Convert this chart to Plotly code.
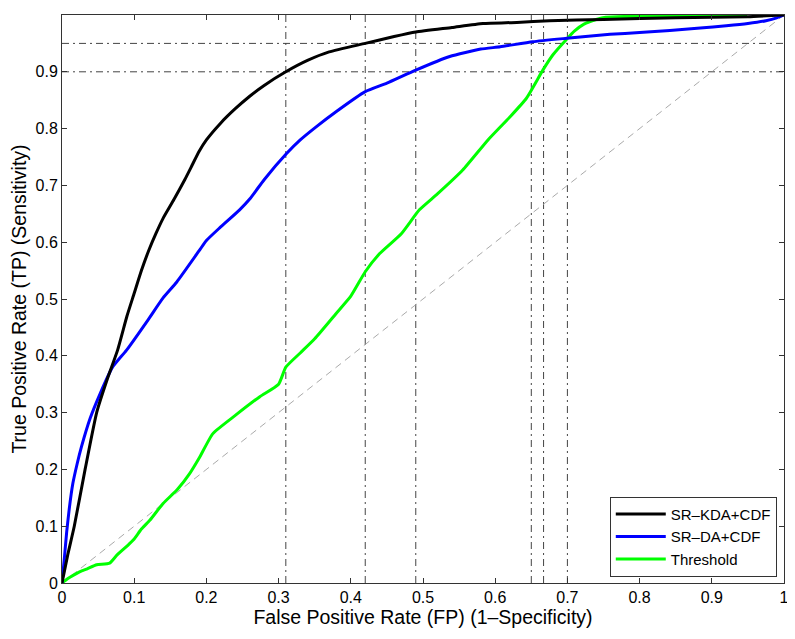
import plotly.graph_objects as go

# ---- data ----
kda_x = [0, 0.008, 0.017, 0.032, 0.048, 0.063, 0.077, 0.09, 0.1, 0.11, 0.12, 0.13, 0.14, 0.155,
         0.17, 0.18, 0.19, 0.2, 0.22, 0.24, 0.26, 0.28, 0.31, 0.34, 0.37, 0.42, 0.46, 0.49, 0.54,
         0.583, 0.63, 0.675, 0.75, 0.8, 0.9, 0.95, 1.0]
kda_y = [0, 0.05, 0.1, 0.2, 0.3, 0.36, 0.41, 0.47, 0.51, 0.55, 0.585, 0.615, 0.642, 0.675,
         0.71, 0.735, 0.76, 0.78, 0.81, 0.835, 0.857, 0.876, 0.90, 0.92, 0.935, 0.95, 0.962, 0.97,
         0.978, 0.985, 0.987, 0.99, 0.992, 0.994, 0.996, 0.997, 1.0]

da_x = [0, 0.003, 0.0065, 0.01, 0.015, 0.021, 0.027, 0.039, 0.053, 0.07, 0.0894, 0.119, 0.14, 0.159,
        0.19, 0.2, 0.219, 0.246, 0.26, 0.28, 0.311, 0.33, 0.352, 0.38, 0.42, 0.45, 0.49, 0.537,
        0.58, 0.607, 0.652, 0.699, 0.759, 0.8, 0.884, 0.92, 0.95, 0.975, 0.99, 1.0]
da_y = [0, 0.04, 0.09, 0.13, 0.175, 0.21, 0.24, 0.29, 0.334, 0.38, 0.41, 0.463, 0.502, 0.53,
        0.585, 0.603, 0.626, 0.657, 0.676, 0.71, 0.756, 0.78, 0.803, 0.83, 0.865, 0.88, 0.903, 0.927,
        0.94, 0.944, 0.953, 0.959, 0.966, 0.969, 0.977, 0.981, 0.985, 0.99, 0.995, 1.0]

thr_x = [0, 0.005, 0.011, 0.025, 0.035, 0.048, 0.066, 0.076, 0.09, 0.099, 0.11, 0.122, 0.14,
         0.16, 0.177, 0.19, 0.209, 0.24, 0.274, 0.3, 0.31, 0.33, 0.35, 0.38, 0.4, 0.42, 0.44,
         0.47, 0.495, 0.52, 0.555, 0.59, 0.62, 0.643, 0.666, 0.68, 0.698, 0.71, 0.723, 0.74,
         0.753, 0.8, 0.9, 0.949]
thr_y = [0, 0.005, 0.01, 0.02, 0.025, 0.032, 0.035, 0.049, 0.065, 0.076, 0.095, 0.111, 0.14,
         0.165, 0.193, 0.22, 0.263, 0.295, 0.328, 0.35, 0.38, 0.405, 0.43, 0.475, 0.505, 0.548, 0.58,
         0.615, 0.657, 0.685, 0.727, 0.78, 0.82, 0.853, 0.903, 0.93, 0.956, 0.972, 0.984, 0.992,
         0.996, 0.998, 0.999, 1.0]

ref_fp = [0.31, 0.42, 0.49, 0.65, 0.667, 0.70]   # vertical dash-dot lines
ref_tp = [0.90, 0.95]                             # horizontal dash-dot lines
diag = [0, 1]

tick_vals = [0, 0.1, 0.2, 0.3, 0.4, 0.5, 0.6, 0.7, 0.8, 0.9, 1]
tick_text = ["0", "0.1", "0.2", "0.3", "0.4", "0.5", "0.6", "0.7", "0.8", "0.9", "1"]

series = [
    ("SR\u2013KDA+CDF", kda_x, kda_y, "#000000"),
    ("SR\u2013DA+CDF", da_x, da_y, "#0000ff"),
    ("Threshold", thr_x, thr_y, "#00ff00"),
]

fig = go.Figure()

refdash = "7px,4px,2px,4px"
for v in ref_fp:
    fig.add_trace(go.Scatter(x=[v, v], y=[0, 1], mode="lines", showlegend=False,
                             line=dict(color="#444444", width=1, dash=refdash), hoverinfo="skip"))
for h in ref_tp:
    fig.add_trace(go.Scatter(x=[0, 1], y=[h, h], mode="lines", showlegend=False,
                             line=dict(color="#444444", width=1, dash=refdash), hoverinfo="skip"))
fig.add_trace(go.Scatter(x=diag, y=diag, mode="lines", showlegend=False,
                         line=dict(color="#aaaaaa", width=1, dash="7px,5px"), hoverinfo="skip"))

for name, xs, ys, col in [series[2], series[1], series[0]]:
    fig.add_trace(go.Scatter(x=xs, y=ys, mode="lines", name=name,
                             line=dict(color=col, width=3, shape="spline", smoothing=0.5)))

axis_common = dict(
    range=[0, 1], tickvals=tick_vals, ticktext=tick_text,
    ticks="inside", ticklen=5, tickcolor="#333333", tickwidth=1,
    showline=True, linecolor="#333333", linewidth=1, mirror="ticks",
    showgrid=False, zeroline=False, automargin=False,
    tickfont=dict(family="Liberation Sans, Arial, sans-serif", size=16, color="#000000"),
)

# page body has an 8px default margin; compensate so the plot area lands where the reference's does
fig.update_layout(
    width=787, height=631,
    margin=dict(l=54, r=11, t=7, b=56, autoexpand=False),
    paper_bgcolor="white", plot_bgcolor="white",
    font=dict(family="Liberation Sans, Arial, sans-serif", color="#000000"),
    xaxis=dict(**axis_common,
               title=dict(text="False Positive Rate (FP) (1\u2013Specificity)",
                          font=dict(size=19.5), standoff=2)),
    yaxis=dict(**axis_common,
               title=dict(text="True Positive Rate (TP) (Sensitivity)",
                          font=dict(size=19.5), standoff=8)),
    legend=dict(x=0.99, y=0.011, xanchor="right", yanchor="bottom",
                bgcolor="white", bordercolor="#333333", borderwidth=1,
                font=dict(size=15), traceorder="reversed", itemwidth=50,
                tracegroupgap=0),
    showlegend=True,
)

fig.write_html("out.html")
